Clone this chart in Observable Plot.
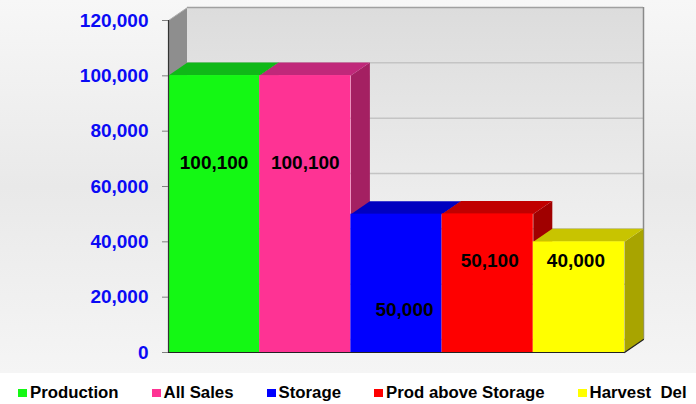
<!DOCTYPE html>
<html>
<head>
<meta charset="utf-8">
<script src="https://cdn.jsdelivr.net/npm/d3@7"></script>
<script src="https://cdn.jsdelivr.net/npm/@observablehq/plot@0.6"></script>
<style>
  html, body { margin: 0; padding: 0; background: #ffffff; }
  #wrap { width: 696px; height: 404px; position: relative; overflow: hidden; font-family: "Liberation Sans", Arial, sans-serif; }
  #chart { width: 696px; height: 373px;
    background: linear-gradient(to bottom, #f7f7f7 0%, #e9e9e9 50%, #f5f5f5 100%); }
  #chart svg { display: block; }
  #legend { height: 23px; padding-top: 8px; background: #ffffff; display: flex; align-items: center; padding-left: 18px; gap: 33px;
    font-size: 16.8px; font-weight: bold; color: #000; white-space: pre; }
  .item { display: flex; align-items: center; gap: 3px; }
  .sw { width: 9px; height: 8px; display: inline-block; }
</style>
</head>
<body>
<div id="wrap">
  <div id="chart"></div>
  <div id="legend"></div>
</div>
<script>
// ---- data ----
const categories = ["Production", "All Sales", "Storage", "Prod above Storage", "Harvest  Del"];
const values = [100100, 100100, 50000, 50100, 40000];
const yTicks = [0, 20000, 40000, 60000, 80000, 100000, 120000];

// ---- styles ----
const frontColors = ["#14f814", "#fe3394", "#0000fe", "#fe0000", "#ffff00"];
const topColors   = ["#10b818", "#c0287a", "#0000c0", "#c00000", "#c8c400"];
const sideColors  = ["#0c9010", "#a42062", "#00009c", "#a00000", "#a8a400"];
// label anchor heights and nudges (layout)
const labelPos = [68600, 68600, 15400, 33200, 33200];
const labelNudge = [0, 0, 8, 2, -3];
const DX = 0.2083;   // 3D depth in band units
const DY = 4700;     // 3D depth in y units
const YMAX = 120000;
const n = categories.length;

const fmt = d3.format(",");
const marks = [];

// left wall
marks.push(Plot.line([[0, 0], [DX, DY], [DX, YMAX + DY], [0, YMAX]],
  {x: d => d[0], y: d => d[1], fill: "#8e8e8e", stroke: "none"}));
marks.push(Plot.line([[0, YMAX], [DX, YMAX + DY]],
  {x: d => d[0], y: d => d[1], stroke: "#b0b0b0", strokeWidth: 1}));
// back wall
marks.push(Plot.rect([0], {x1: DX, x2: n + DX, y1: DY, y2: YMAX + DY, fill: "url(#wallGrad)"}));
// gridlines on back wall
marks.push(Plot.ruleY(yTicks.slice(0, -1), {y: t => t + DY, x1: DX, x2: n + DX, stroke: "#c4c4c4", strokeWidth: 1.5}));
marks.push(Plot.ruleY([YMAX], {y: t => t + DY, x1: DX, x2: n + DX, stroke: "#a0a0a0", strokeWidth: 1.5}));
marks.push(Plot.ruleX([n + DX], {y1: DY, y2: YMAX + DY, stroke: "#8a8a8a", strokeWidth: 1.5}));

// bars
values.forEach((v, i) => {
  marks.push(Plot.line([[i + 1, 0], [i + 1 + DX, DY], [i + 1 + DX, v + DY], [i + 1, v]],
    {x: d => d[0], y: d => d[1], fill: sideColors[i], stroke: "none"}));
  marks.push(Plot.line([[i, v], [i + 1, v], [i + 1 + DX, v + DY], [i + DX, v + DY]],
    {x: d => d[0], y: d => d[1], fill: topColors[i], stroke: "none"}));
  marks.push(Plot.rectY([v], {x1: i, x2: i + 1, y1: 0, y2: d => d, fill: frontColors[i]}));
});

// bottom edges
marks.push(Plot.ruleY([0], {x1: 0, x2: n, stroke: "#222", strokeWidth: 1.2}));
marks.push(Plot.line([[n, 0], [n + DX, DY]], {x: d => d[0], y: d => d[1], stroke: "#222", strokeWidth: 1.2}));
marks.push(Plot.ruleX([0], {y1: 0, y2: YMAX, stroke: "#333", strokeWidth: 1.2}));

// value labels
values.forEach((v, i) => {
  marks.push(Plot.text([v], {
    x: i + 0.5, y: labelPos[i], dx: labelNudge[i], text: d => fmt(d),
    fill: "#000", fontSize: 19, fontWeight: "bold"
  }));
});

// y axis
marks.push(Plot.axisY(yTicks, {
  tickSize: 6, tickPadding: 14, tickFormat: fmt, stroke: "#808080",
  fill: "#0a0af5", fontSize: 19, fontWeight: "bold", label: null
}));

const chart = Plot.plot({
  width: 696,
  height: 373,
  marginLeft: 168,
  marginRight: 53,
  marginTop: 20,
  marginBottom: 21,
  x: {type: "linear", domain: [0, n + DX], axis: null},
  y: {type: "linear", domain: [0, YMAX], axis: null},
  style: {background: "transparent", fontFamily: "'Liberation Sans', Arial, sans-serif", overflow: "visible"},
  marks
});

// gradient for back wall
const ns = "http://www.w3.org/2000/svg";
const defs = document.createElementNS(ns, "defs");
const lg = document.createElementNS(ns, "linearGradient");
lg.setAttribute("id", "wallGrad");
lg.setAttribute("x1", "0"); lg.setAttribute("y1", "0");
lg.setAttribute("x2", "0"); lg.setAttribute("y2", "1");
[["0%", "#dcdcdc"], ["55%", "#ececec"], ["100%", "#f6f6f6"]].forEach(([o, c]) => {
  const s = document.createElementNS(ns, "stop");
  s.setAttribute("offset", o); s.setAttribute("stop-color", c);
  lg.appendChild(s);
});
defs.appendChild(lg);
chart.insertBefore(defs, chart.firstChild);
document.getElementById("chart").appendChild(chart);

// legend
const legend = document.getElementById("legend");
categories.forEach((c, i) => {
  const it = document.createElement("div");
  it.className = "item";
  const sw = document.createElement("span");
  sw.className = "sw";
  sw.style.background = frontColors[i];
  const t = document.createElement("span");
  t.textContent = c;
  it.appendChild(sw); it.appendChild(t);
  legend.appendChild(it);
});
</script>
</body>
</html>
